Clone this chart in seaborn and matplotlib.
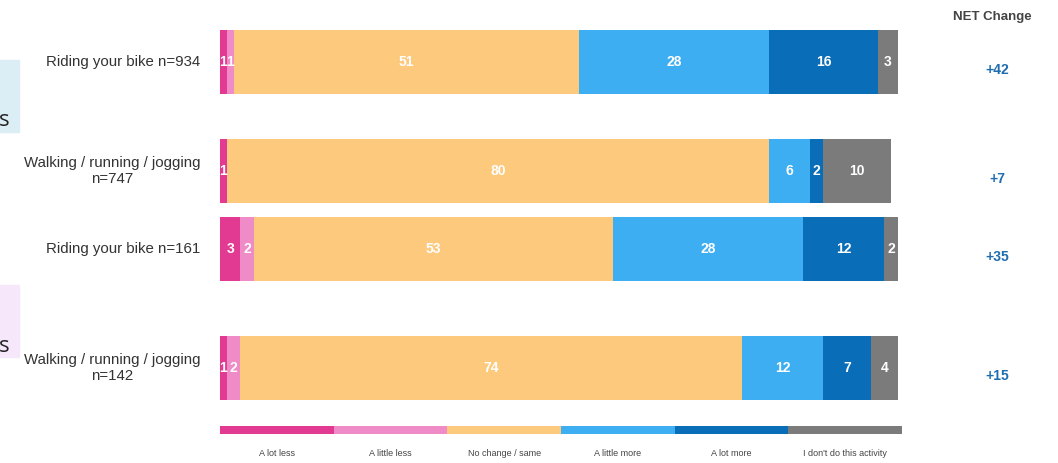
import matplotlib
matplotlib.use("Agg")
import matplotlib.pyplot as plt
from matplotlib.patches import Rectangle
import numpy as np
import pandas as pd
import seaborn as sns

# --- data -------------------------------------------------------------
rows = [
    "Riding your bike n=934",
    "Walking / running / jogging\nn=747",
    "Riding your bike n=161",
    "Walking / running / jogging\nn=142",
]
responses = ["A lot less", "A little less", "No change / same",
             "A little more", "A lot more", "I don't do this activity"]
a_lot_less = [1, 1, 3, 1]
a_little_less = [1, 0, 2, 2]
no_change = [51, 80, 53, 74]
a_little_more = [28, 6, 28, 12]
a_lot_more = [16, 2, 12, 7]
dont_do = [3, 10, 2, 4]
net_change = ["+42", "+7", "+35", "+15"]

palette = ["#e23a93", "#ef8cc8", "#fdc97d", "#3eaef2", "#0a6db8", "#7b7b7b"]

# --- layout (figure pixel units) --------------------------------------
W, H = 1058, 463
row_centres = [62, 171, 249, 368]
bar_px = 64

sns.set_theme(style="white")
plt.rcParams["font.family"] = ["Liberation Sans", "DejaVu Sans"]

fig = plt.figure(figsize=(W / 100, H / 100), dpi=100)
fig.patch.set_facecolor("white")

# background layer for free text (pixel coordinates, origin top-left)
bg = fig.add_axes([0, 0, 1, 1])
bg.set_xlim(0, W)
bg.set_ylim(H, 0)
bg.axis("off")

x0, x1 = 220, 898
ax = fig.add_axes([x0 / W, 0, (x1 - x0) / W, 1])
ax.patch.set_alpha(0)

series = [a_lot_less, a_little_less, no_change, a_little_more, a_lot_more, dont_do]
df = pd.DataFrame({name: vals for name, vals in zip(responses, series)})
df["pos"] = row_centres
cum = df[responses].cumsum(axis=1)

min_gap = np.min(np.diff(sorted(row_centres)))
for i in range(len(responses) - 1, -1, -1):
    sns.barplot(x=cum[responses[i]], y=df["pos"], orient="h", native_scale=True,
                color=palette[i], saturation=1, width=bar_px / min_gap,
                linewidth=0, ax=ax)

ax.set_xlim(0, 100)
ax.set_ylim(H, 0)
ax.axis("off")

# segment value labels
for r in range(len(rows)):
    left = 0
    for i, name in enumerate(responses):
        v = df.loc[r, name]
        if v > 0:
            ax.text(left + v / 2, row_centres[r], f"{v:g}", ha="center", va="center",
                    color="white", fontsize=10, fontweight="bold")
        left += v

# row labels
for r, lab in enumerate(rows):
    bg.text(200, row_centres[r], lab, ha="right", va="center", fontsize=10.8,
            color="#333333", linespacing=1.2, multialignment="center")

# NET change column
bg.text(992, 17, "NET Change", ha="center", va="center", fontsize=9.5,
        fontweight="bold", color="#444444")
for r, v in enumerate(net_change):
    bg.text(997, row_centres[r] + 8, v, ha="center", va="center", fontsize=10,
            fontweight="bold", color="#1f6db0")

# partially visible group tabs on the left edge
bg.add_patch(Rectangle((0, 60), 19, 72, color="#dbeef5", zorder=0))
bg.add_patch(Rectangle((0, 285), 19, 72, color="#f6e7fb", zorder=0))
bg.text(-1, 120, "s", ha="left", va="center", fontsize=16, color="#222222",
        family=["Open Sans", "DejaVu Sans"])
bg.text(-1, 346, "s", ha="left", va="center", fontsize=16, color="#222222",
        family=["Open Sans", "DejaVu Sans"])

# legend strip
seg = (902 - 220) / len(responses)
for i, (name, c) in enumerate(zip(responses, palette)):
    bg.add_patch(Rectangle((220 + i * seg, 426), seg, 8, color=c, lw=0))
    bg.text(220 + (i + 0.5) * seg, 453, name, ha="center", va="center",
            fontsize=6.5, color="#444444", stretch="condensed")

fig.savefig("out.png", dpi=100, facecolor="white")
